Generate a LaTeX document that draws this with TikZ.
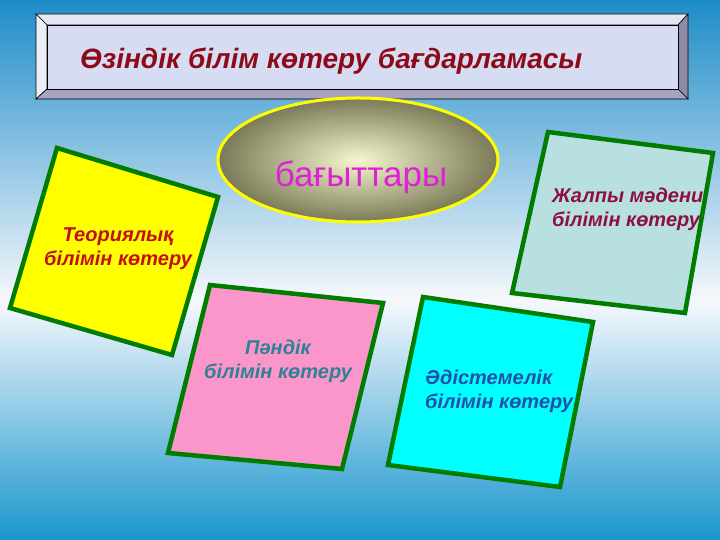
\documentclass[tikz,border=0pt]{standalone}
\usepackage{fontspec}
\setmainfont{Liberation Sans}
\usetikzlibrary{positioning}

\definecolor{skyblue}{RGB}{30,140,200}
\definecolor{seablue}{RGB}{25,150,205}
\definecolor{paleback}{RGB}{246,248,252}
\definecolor{framegreen}{RGB}{0,125,0}
\definecolor{plaque}{RGB}{214,220,242}
\definecolor{titlered}{RGB}{140,10,26}
\definecolor{pureyellow}{RGB}{255,255,0}
\definecolor{purecyan}{RGB}{0,255,255}

\begin{document}
\begin{tikzpicture}[x=1pt,y=1pt]
    \tikzstyle{box}=[draw=framegreen,line width=4.5pt,line join=miter];
    \tikzstyle{lbl}=[font=\fontsize{20}{24}\selectfont\bfseries\itshape,inner sep=0pt];
    \useasboundingbox (0,0) rectangle (720,540);

    % background
    \shade[top color=skyblue,bottom color=paleback] (0,540) rectangle (720,240);
    \shade[top color=paleback,bottom color=seablue] (0,240) rectangle (720,0);

    % title plaque
    \coordinate (ta) at (36,526); \coordinate (tb) at (688,526);
    \coordinate (tc) at (688,441); \coordinate (td) at (36,441);
    \coordinate (ia) at (47,515); \coordinate (ib) at (678,515);
    \coordinate (ic) at (678,451); \coordinate (id) at (47,451);
    \filldraw[fill={rgb,255:red,228;green,230;blue,244},draw=black,line width=0.6pt]
      (ta) -- (tb) -- (ib) -- (ia) -- cycle;
    \filldraw[fill={rgb,255:red,236;green,238;blue,248},draw=black,line width=0.6pt]
      (ta) -- (ia) -- (id) -- (td) -- cycle;
    \filldraw[fill={rgb,255:red,140;green,140;blue,166},draw=black,line width=0.6pt]
      (tb) -- (tc) -- (ic) -- (ib) -- cycle;
    \filldraw[fill={rgb,255:red,166;green,164;blue,190},draw=black,line width=0.6pt]
      (td) -- (id) -- (ic) -- (tc) -- cycle;
    \filldraw[fill=plaque,draw=black,line width=0.6pt] (ia) rectangle (ic);
    \node (title) [anchor=base west,inner sep=0pt,text=titlered,
      font=\fontsize{28}{32}\selectfont\bfseries\itshape] at (80,471)
      {Өзіндік білім көтеру бағдарламасы};

    % directions
    \shade[inner color={rgb,255:red,246;green,246;blue,206},
      outer color={rgb,255:red,122;green,122;blue,88}] (358,380) ellipse (140 and 62);
    \draw[draw=pureyellow,line width=3pt] (358,380) ellipse (140 and 62);
    \node (dir) [anchor=base,inner sep=0pt,text={rgb,255:red,224;green,32;blue,214},
      font=\fontsize{35}{40}\selectfont] at (361,353) {бағыттары};

    % theory
    \coordinate (1a) at (57,392); \coordinate (1b) at (218,343);
    \coordinate (1c) at (172,185); \coordinate (1d) at (10,232);
    \filldraw[box,fill=pureyellow] (1a) -- (1b) -- (1c) -- (1d) -- cycle;
    \node (1) [lbl,align=center,text={rgb,255:red,192;green,16;blue,24}] at (118,291)
      {Теориялық\\білімін көтеру};

    % general culture
    \coordinate (2a) at (548,408); \coordinate (2b) at (713,387);
    \coordinate (2c) at (685,227); \coordinate (2d) at (512,247);
    \filldraw[box,fill={rgb,255:red,184;green,224;blue,224}] (2a) -- (2b) -- (2c) -- (2d) -- cycle;
    \node (2) [lbl,align=left,anchor=west,text={rgb,255:red,140;green,16;blue,64}] at (552,331)
      {Жалпы мәдени\\білімін көтеру};

    % subject
    \coordinate (3a) at (210,255); \coordinate (3b) at (383,237);
    \coordinate (3c) at (342,71); \coordinate (3d) at (168,87);
    \filldraw[box,fill={rgb,255:red,250;green,150;blue,202}] (3a) -- (3b) -- (3c) -- (3d) -- cycle;
    \node (3) [lbl,align=center,text={rgb,255:red,48;green,128;blue,150}] at (278,179)
      {Пәндік\\білімін көтеру};

    % methodology
    \coordinate (4a) at (423,243); \coordinate (4b) at (593,218);
    \coordinate (4c) at (560,53); \coordinate (4d) at (388,75);
    \filldraw[box,fill=purecyan] (4a) -- (4b) -- (4c) -- (4d) -- cycle;
    \node (4) [lbl,align=left,anchor=west,text={rgb,255:red,32;green,80;blue,168}] at (425,149)
      {Әдістемелік\\білімін көтеру};
  \end{tikzpicture}
\end{document}
